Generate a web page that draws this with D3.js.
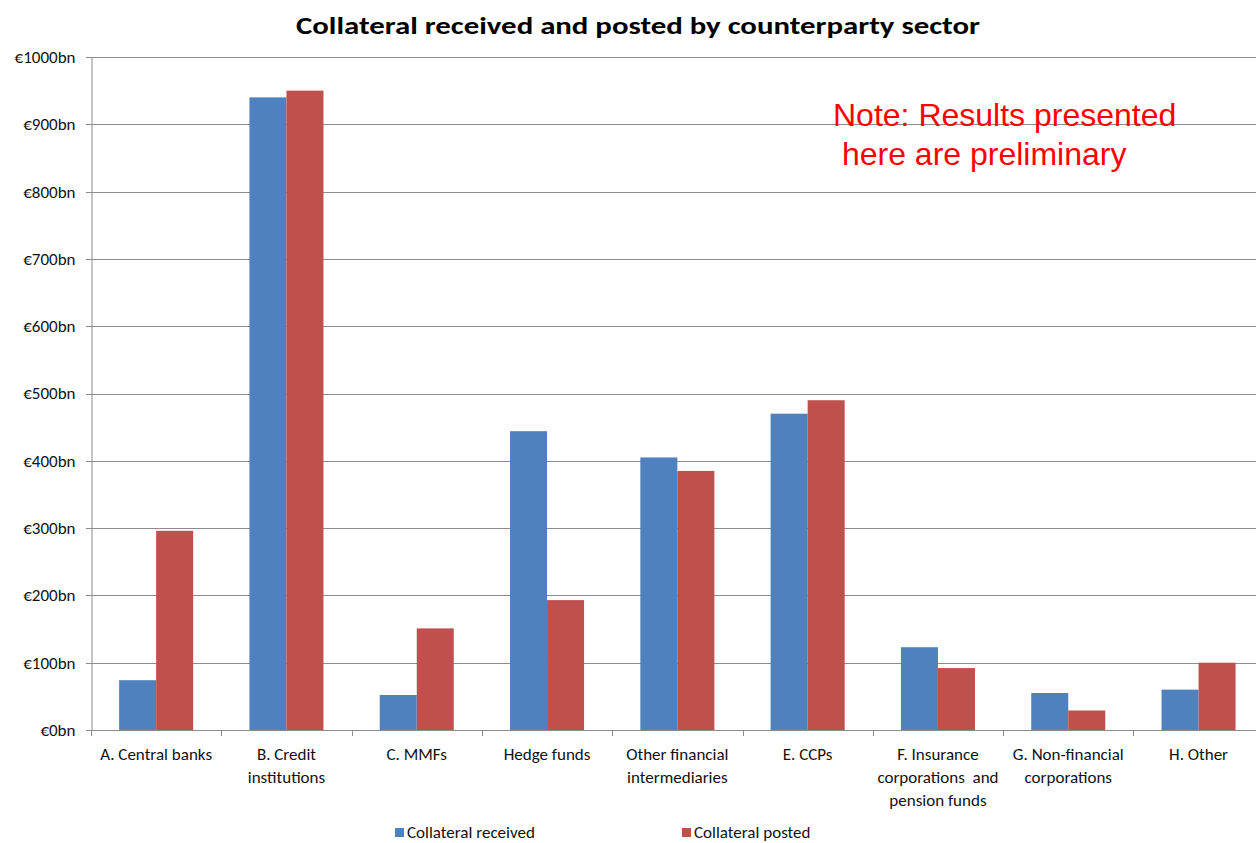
<!DOCTYPE html>
<html>
<head>
<meta charset="utf-8">
<script src="https://cdn.jsdelivr.net/npm/d3@7"></script>
<style>
  html, body { margin: 0; padding: 0; background: #fff; overflow: hidden; }
  svg { display: block; }
</style>
</head>
<body>
<script>
// Counterparty sectors (multi-line labels split on "\n")
const categories = [
  "A. Central banks",
  "B. Credit\ninstitutions",
  "C. MMFs",
  "Hedge funds",
  "Other financial\nintermediaries",
  "E. CCPs",
  "F. Insurance\ncorporations  and\npension funds",
  "G. Non-financial\ncorporations",
  "H. Other"
];
// Values in € billions
const collateralReceived = [74, 940, 52, 444, 405, 470, 123, 55, 60];
const collateralPosted   = [296, 950, 151, 193, 385, 490, 92, 29, 100];
const seriesNames = ["Collateral received", "Collateral posted"];
const yTicks = [0, 100, 200, 300, 400, 500, 600, 700, 800, 900, 1000];

const W = 1256, H = 843;
const colors = ["#4F81BD", "#C0504D"];
const margin = { left: 91, top: 57, bottom: 113 };
const plotRight = 91 + 9 * 130.3;

const svg = d3.select("body").append("svg").attr("width", W).attr("height", H);

const x = d3.scaleBand().domain(categories).range([margin.left, plotRight]).paddingInner(0).paddingOuter(0);
const x1 = d3.scaleBand().domain(seriesNames).range([0, x.bandwidth()]).paddingInner(0).paddingOuter(0.76);
const y = d3.scaleLinear().domain([0, 1000]).range([H - margin.bottom, margin.top]);

const font = "Carlito, 'Open Sans', 'Liberation Sans', sans-serif";
const fs = 17;

// Gridlines
svg.append("g").selectAll("line").data(yTicks).join("line")
  .attr("x1", margin.left - 5).attr("x2", plotRight)
  .attr("y1", d => Math.round(y(d)) + 0.5).attr("y2", d => Math.round(y(d)) + 0.5)
  .attr("stroke", "#8c8c8c").attr("stroke-width", 1);

// Y axis
const yAxis = d3.axisLeft(y).tickValues(yTicks).tickSize(0).tickPadding(16)
  .tickFormat(d => "€" + d + "bn");
const gy = svg.append("g").attr("transform", `translate(${margin.left + 0.5},0)`).call(yAxis);
gy.select(".domain").attr("stroke", "#8c8c8c");
gy.selectAll("text").attr("font-family", font).attr("font-size", fs).attr("fill", "#111");

// X axis ticks at band boundaries
const boundaries = categories.map(c => x(c)).concat([plotRight]);
svg.append("g").selectAll("line").data(boundaries).join("line")
  .attr("x1", d => Math.round(d) + 0.5).attr("x2", d => Math.round(d) + 0.5)
  .attr("y1", y(0)).attr("y2", y(0) + 6)
  .attr("stroke", "#8c8c8c");

// Bars
const rows = categories.map((c, i) => ({ c, vals: [collateralReceived[i], collateralPosted[i]] }));
const groups = svg.append("g").selectAll("g").data(rows).join("g")
  .attr("transform", d => `translate(${x(d.c)},0)`);
groups.selectAll("rect").data(d => d.vals.map((v, j) => ({ v, s: seriesNames[j], j })))
  .join("rect")
  .attr("x", d => x1(d.s))
  .attr("width", x1.bandwidth())
  .attr("y", d => y(d.v))
  .attr("height", d => y(0) - y(d.v))
  .attr("fill", d => colors[d.j]);

// Category labels
const labels = svg.append("g").selectAll("text").data(categories).join("text")
  .attr("text-anchor", "middle")
  .attr("font-family", font).attr("font-size", fs).attr("fill", "#111")
  .attr("transform", d => `translate(${x(d) + x.bandwidth() / 2},${y(0) + 30})`);
labels.selectAll("tspan").data(d => d.split("\n")).join("tspan")
  .attr("x", 0).attr("dy", (d, i) => i === 0 ? 0 : 23)
  .style("white-space", "pre")
  .text(d => d);

// Axis baseline
svg.append("line")
  .attr("x1", margin.left - 5).attr("x2", plotRight)
  .attr("y1", Math.round(y(0)) + 0.5).attr("y2", Math.round(y(0)) + 0.5)
  .attr("stroke", "#8c8c8c");

// Title
svg.append("text").attr("x", 638).attr("y", 34).attr("text-anchor", "middle")
  .attr("font-family", font).attr("font-weight", "bold").attr("font-size", 25)
  .attr("textLength", 684).attr("lengthAdjust", "spacingAndGlyphs")
  .attr("fill", "#000")
  .text("Collateral received and posted by counterparty sector");

// Note
const note = svg.append("text").attr("font-family", "'Liberation Sans', Arial, sans-serif")
  .attr("font-size", 32).attr("fill", "#FF0000").style("white-space", "pre");
note.append("tspan").attr("x", 833).attr("y", 126).text("Note: Results presented");
note.append("tspan").attr("x", 833).attr("y", 165).text(" here are preliminary");

// Legend
const legend = svg.append("g").selectAll("g").data(seriesNames).join("g")
  .attr("transform", (d, i) => `translate(${i === 0 ? 395 : 682},0)`);
legend.append("rect").attr("x", 0).attr("y", 828).attr("width", 9).attr("height", 9)
  .attr("fill", (d, i) => colors[i]);
legend.append("text").attr("x", 12).attr("y", 838)
  .attr("font-family", font).attr("font-size", fs).attr("fill", "#111")
  .text(d => d);
</script>
</body>
</html>
